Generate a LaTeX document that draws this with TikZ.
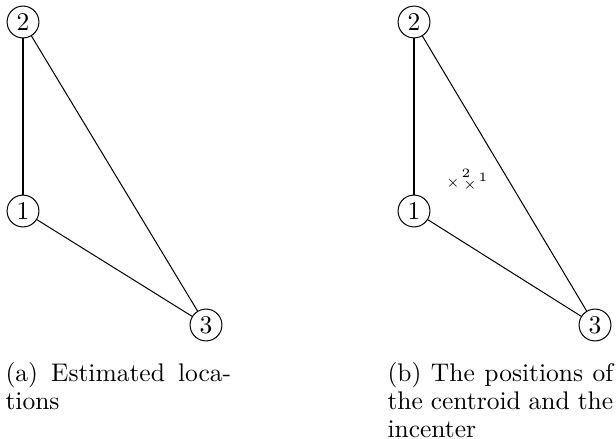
\documentclass[tikz,border=0pt]{standalone}
\begin{document}
\begin{tikzpicture}[x=0.3922pt,y=-0.3922pt,
  vtx/.style={draw,circle,inner sep=0.5pt,minimum size=12.5pt,font=\normalsize},
  edge/.style={draw,line width=0.4pt},
  crs/.style={inner sep=0pt,font=\tiny},
  crslab/.style={inner sep=0pt,font=\tiny},
  capt/.style={anchor=north west,inner sep=0pt,text width=88.5pt,align=left,
    font={\fontsize{10}{11}\selectfont}}]
\useasboundingbox (0,0) rectangle (616,439);
% left panel
\node[vtx] (a2) at (23,22) {2};
\node[vtx] (a1) at (23,211) {1};
\node[vtx] (a3) at (206,325) {3};
\draw[edge] (a2) -- (a1);
\draw[edge] (a2) -- (a3);
\draw[edge] (a1) -- (a3);
% right panel
\node[vtx] (b2) at (414,22) {2};
\node[vtx] (b1) at (414,211) {1};
\node[vtx] (b3) at (595,325) {3};
\draw[edge] (b2) -- (b1);
\draw[edge] (b2) -- (b3);
\draw[edge] (b1) -- (b3);
% centroid and incenter
\node[crs] (c2) at (453,183) {$\times$};
\node[crs] (c1) at (470,185) {$\times$};
\node[crslab] (l2) at (466,173) {2};
\node[crslab] (l1) at (483,177) {1};
% captions
\node[capt] (capa) at (5,362) {(a)\hfill Estimated\hfill loca-\\tions};
\node[capt] (capb) at (387,362) {(b)\hfill The\hfill positions\hfill of\\the\hfill centroid\hfill and\hfill the\\incenter};
\end{tikzpicture}
\end{document}
